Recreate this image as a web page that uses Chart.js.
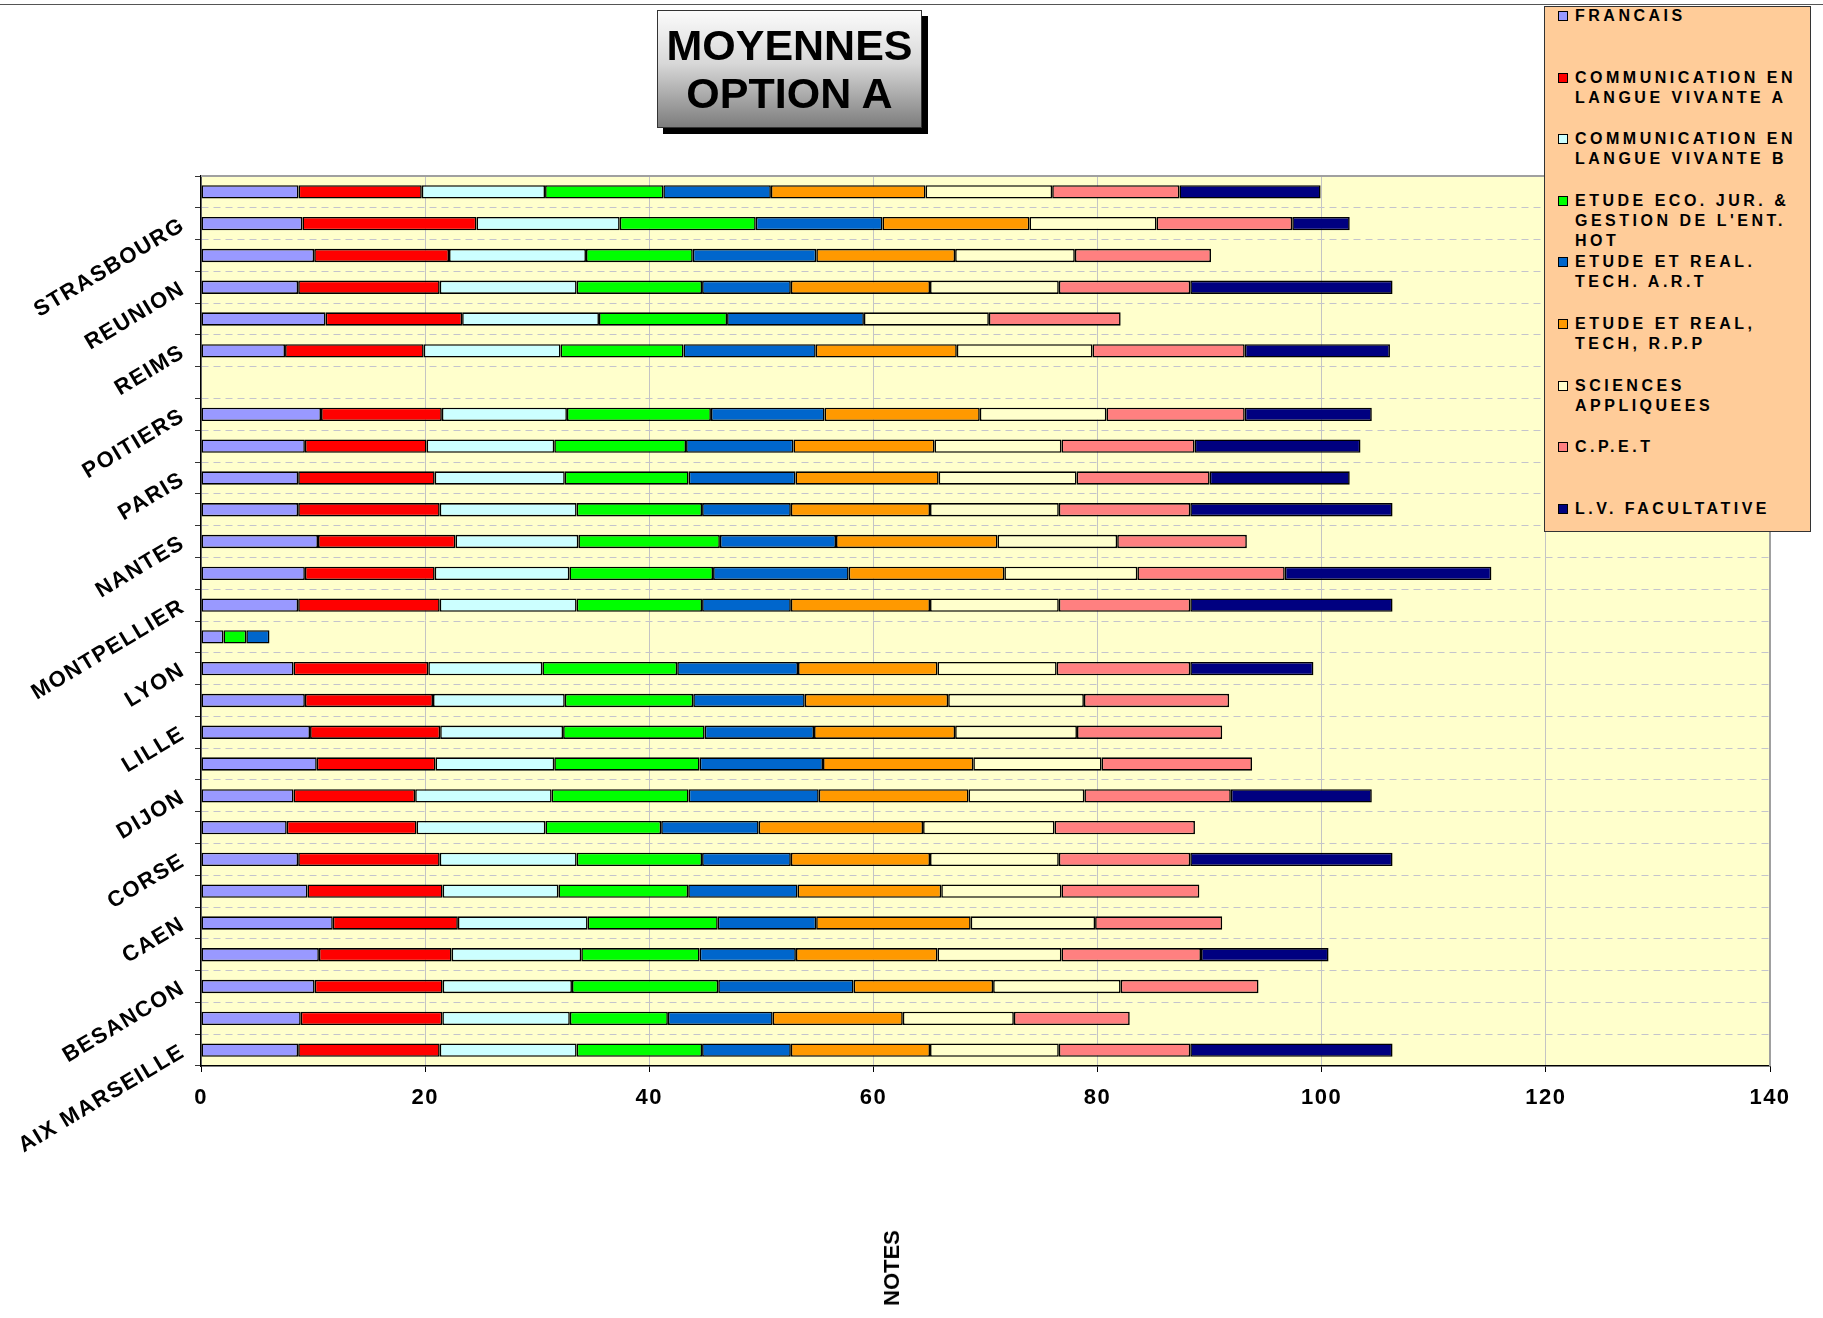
<!DOCTYPE html>
<html>
<head>
<meta charset="utf-8">
<script src="https://cdn.jsdelivr.net/npm/chart.js@4.4.0/dist/chart.umd.min.js"></script>
<style>
html,body{margin:0;padding:0;background:#fff;}
#wrap{position:relative;width:1823px;height:1318px;overflow:hidden;font-family:"Liberation Sans",Arial,sans-serif;}
#c{position:absolute;left:0;top:0;}
#topline{position:absolute;left:0;top:4px;width:1823px;height:1px;background:#555;}
#title{position:absolute;left:657px;top:10px;width:263px;height:116px;border:1px solid #333;
  background:linear-gradient(#fbfbfb 0%,#d8d8d8 45%,#7d7d7d 100%);box-shadow:6px 6px 0 #000;
  display:flex;flex-direction:column;justify-content:center;align-items:center;
  font-weight:bold;font-size:43px;line-height:48px;color:#000;text-align:center;}
#legend{position:absolute;left:1544px;top:6px;width:267px;height:526px;background:#FFCC99;border:1px solid #333;box-sizing:border-box;}
.item{position:absolute;left:0;width:265px;}
.mk{position:absolute;left:13px;top:5px;width:8px;height:8px;border:1px solid #000;}
.tx{position:absolute;left:30px;top:0;width:234px;font-weight:bold;font-size:16px;line-height:20px;letter-spacing:3.5px;color:#000;}
#notes{position:absolute;left:892px;top:1268px;transform:translate(-50%,-50%) rotate(-90deg);font-weight:bold;font-size:22px;white-space:nowrap;color:#000;}
</style>
</head>
<body>
<div id="wrap">
  <div id="topline"></div>
  <canvas id="c" width="1823" height="1318"></canvas>
  <div id="title">MOYENNES<br>OPTION A</div>
  <div id="legend"></div>
  <div id="notes">NOTES</div>
</div>
<script>
// Categories, bottom (first) to top (last); only every other one is labelled in the picture
const categories = ["AIX MARSEILLE","AMIENS","BESANCON","BORDEAUX","CAEN","CLERMONT-FERRAND","CORSE","CRETEIL","DIJON","GRENOBLE","LILLE","LIMOGES","LYON","MARTINIQUE","MONTPELLIER","NANCY-METZ","NANTES","NICE","PARIS","ORLEANS-TOURS","POITIERS","POLYNESIE","REIMS","RENNES","REUNION","ROUEN","STRASBOURG","TOULOUSE"];

const seriesNames = ["FRANCAIS","COMMUNICATION EN LANGUE VIVANTE A","COMMUNICATION EN LANGUE VIVANTE B","ETUDE ECO. JUR. & GESTION DE L'ENT. HOT","ETUDE ET REAL. TECH. A.R.T","ETUDE ET REAL, TECH, R.P.P","SCIENCES APPLIQUEES","C.P.E.T","L.V. FACULTATIVE"];
const seriesColors = ["#9999FF","#FF0000","#CCFFFF","#00FF00","#0066CC","#FF9900","#FFFFCC","#FF8080","#000080"];

const francais = [8.67,8.9,10.14,10.52,11.76,9.5,8.67,7.65,8.26,10.33,9.73,9.27,8.26,2.0,8.67,9.27,10.44,8.67,8.67,9.27,10.71,null,7.5,11.12,8.67,10.1,9.05,8.7];
const lvA = [12.63,12.63,11.42,11.84,11.16,12.06,12.63,11.58,10.85,10.59,11.61,11.43,12.02,null,12.63,11.58,12.26,12.63,12.18,10.86,10.78,null,12.37,12.18,12.63,12.03,15.53,11.0];
const lvB = [12.22,11.38,11.54,11.57,11.58,10.33,12.22,11.5,12.18,10.6,10.97,11.76,10.18,null,12.22,12.02,10.97,12.22,11.61,11.39,11.16,null,12.21,12.21,12.22,12.22,12.78,11.0];
const etudeEco = [11.19,8.75,13.05,10.56,11.61,11.58,11.19,10.33,12.22,12.97,12.63,11.46,12.03,2.04,11.19,12.82,12.63,11.19,11.05,11.76,12.85,null,10.97,11.43,11.19,9.53,12.14,10.55];
const etudeArt = [7.92,9.35,12.08,8.59,8.78,9.76,7.92,8.7,11.61,11.01,9.76,9.95,10.78,2.07,7.92,12.1,10.36,7.92,9.53,9.58,10.14,null,11.8,12.21,7.92,11.02,11.31,9.6];
const etudeRpp = [12.42,11.61,12.45,12.63,13.79,12.82,12.42,14.67,13.36,13.41,12.59,12.8,12.44,null,12.42,13.89,14.41,12.42,12.78,12.58,13.85,null,12.59,null,12.42,12.39,13.11,13.8];
const sciences = [11.49,9.91,11.38,11.07,11.1,10.73,11.49,11.73,10.34,11.45,10.87,12.11,10.64,null,11.49,11.87,10.68,11.49,12.31,11.34,11.3,null,12.11,11.15,11.49,10.68,11.34,11.3];
const cpet = [11.73,10.34,12.3,12.45,11.34,12.3,11.73,12.53,13.07,13.42,12.96,12.96,11.92,null,11.73,13.15,11.57,11.73,11.87,11.87,12.34,null,13.58,11.76,11.73,12.15,12.11,11.35];
const lvFacultative = [18.05,null,null,11.38,null,null,18.05,null,12.58,null,null,null,10.99,null,18.05,18.44,null,18.05,12.5,14.81,11.34,null,12.96,null,18.05,null,5.13,12.6];

const xTicks = [0,20,40,60,80,100,120,140];

const seriesValues = [francais,lvA,lvB,etudeEco,etudeArt,etudeRpp,sciences,cpet,lvFacultative];

// HTML legend
const leg = document.getElementById('legend');
seriesNames.forEach((n,i)=>{
  const it = document.createElement('div');
  it.className='item';
  it.style.top = (i*61.6 - 1) + 'px';
  const mk = document.createElement('div'); mk.className='mk'; mk.style.background = seriesColors[i];
  const tx = document.createElement('div'); tx.className='tx'; tx.textContent = n;
  it.appendChild(mk); it.appendChild(tx); leg.appendChild(it);
});

const bgPlugin = {
  id:'bg',
  beforeDraw(chart){
    const {ctx, chartArea:a} = chart;
    ctx.save();
    ctx.fillStyle = '#FFFFCC';
    ctx.fillRect(a.left, a.top, a.right-a.left, a.bottom-a.top);
    ctx.restore();
    ctx.letterSpacing = '1.5px';
  },
  beforeDatasetsDraw(chart){
    const {ctx, chartArea:a} = chart;
    ctx.save();
    ctx.strokeStyle = '#a0a0a0';
    ctx.lineWidth = 2;
    ctx.beginPath();
    ctx.moveTo(a.left, a.top); ctx.lineTo(a.right, a.top); ctx.lineTo(a.right, a.bottom);
    ctx.stroke();
    ctx.restore();
  }
};

const font = {family:"'Liberation Sans', Arial, sans-serif", weight:'bold', size:22};

new Chart(document.getElementById('c'), {
  type:'bar',
  data:{
    labels:categories,
    datasets: seriesNames.map((n,i)=>({
      label:n, data:seriesValues[i], backgroundColor:seriesColors[i],
      borderColor:'#000', borderWidth:1.6, borderSkipped:false,
      categoryPercentage:1, barPercentage:0.42
    }))
  },
  options:{
    responsive:false, animation:false, indexAxis:'y',
    layout:{padding:{left:0,right:53,top:176,bottom:192}, autoPadding:false},
    plugins:{legend:{display:false}, title:{display:false}, tooltip:{enabled:false}},
    scales:{
      x:{
        stacked:true, min:xTicks[0], max:xTicks[xTicks.length-1], position:'bottom',
        afterBuildTicks:(s)=>{ s.ticks = xTicks.map(v=>({value:v})); },
        ticks:{font:font, color:'#000', padding:13, maxRotation:0},
        grid:{color:'#c4c4c4', lineWidth:1, tickColor:'#000', tickLength:6},
        border:{display:true, color:'#000', width:1.5},
        afterFit:(s)=>{ s.height = 60; }
      },
      y:{
        stacked:true, reverse:true,
        ticks:{autoSkip:false, minRotation:31, maxRotation:31, padding:12, font:font, color:'#000',
          callback:function(v,i){ return i%2===0 ? this.getLabelForValue(v) : ''; }},
        grid:{color:'#c4c4cc', lineWidth:1, offset:true, tickColor:'#333', tickLength:6},
        border:{display:true, color:'#000', width:1.5, dash:[7,5]},
        afterFit:(s)=>{ s.width = 201; }
      }
    }
  },
  plugins:[bgPlugin]
});
</script>
</body>
</html>
